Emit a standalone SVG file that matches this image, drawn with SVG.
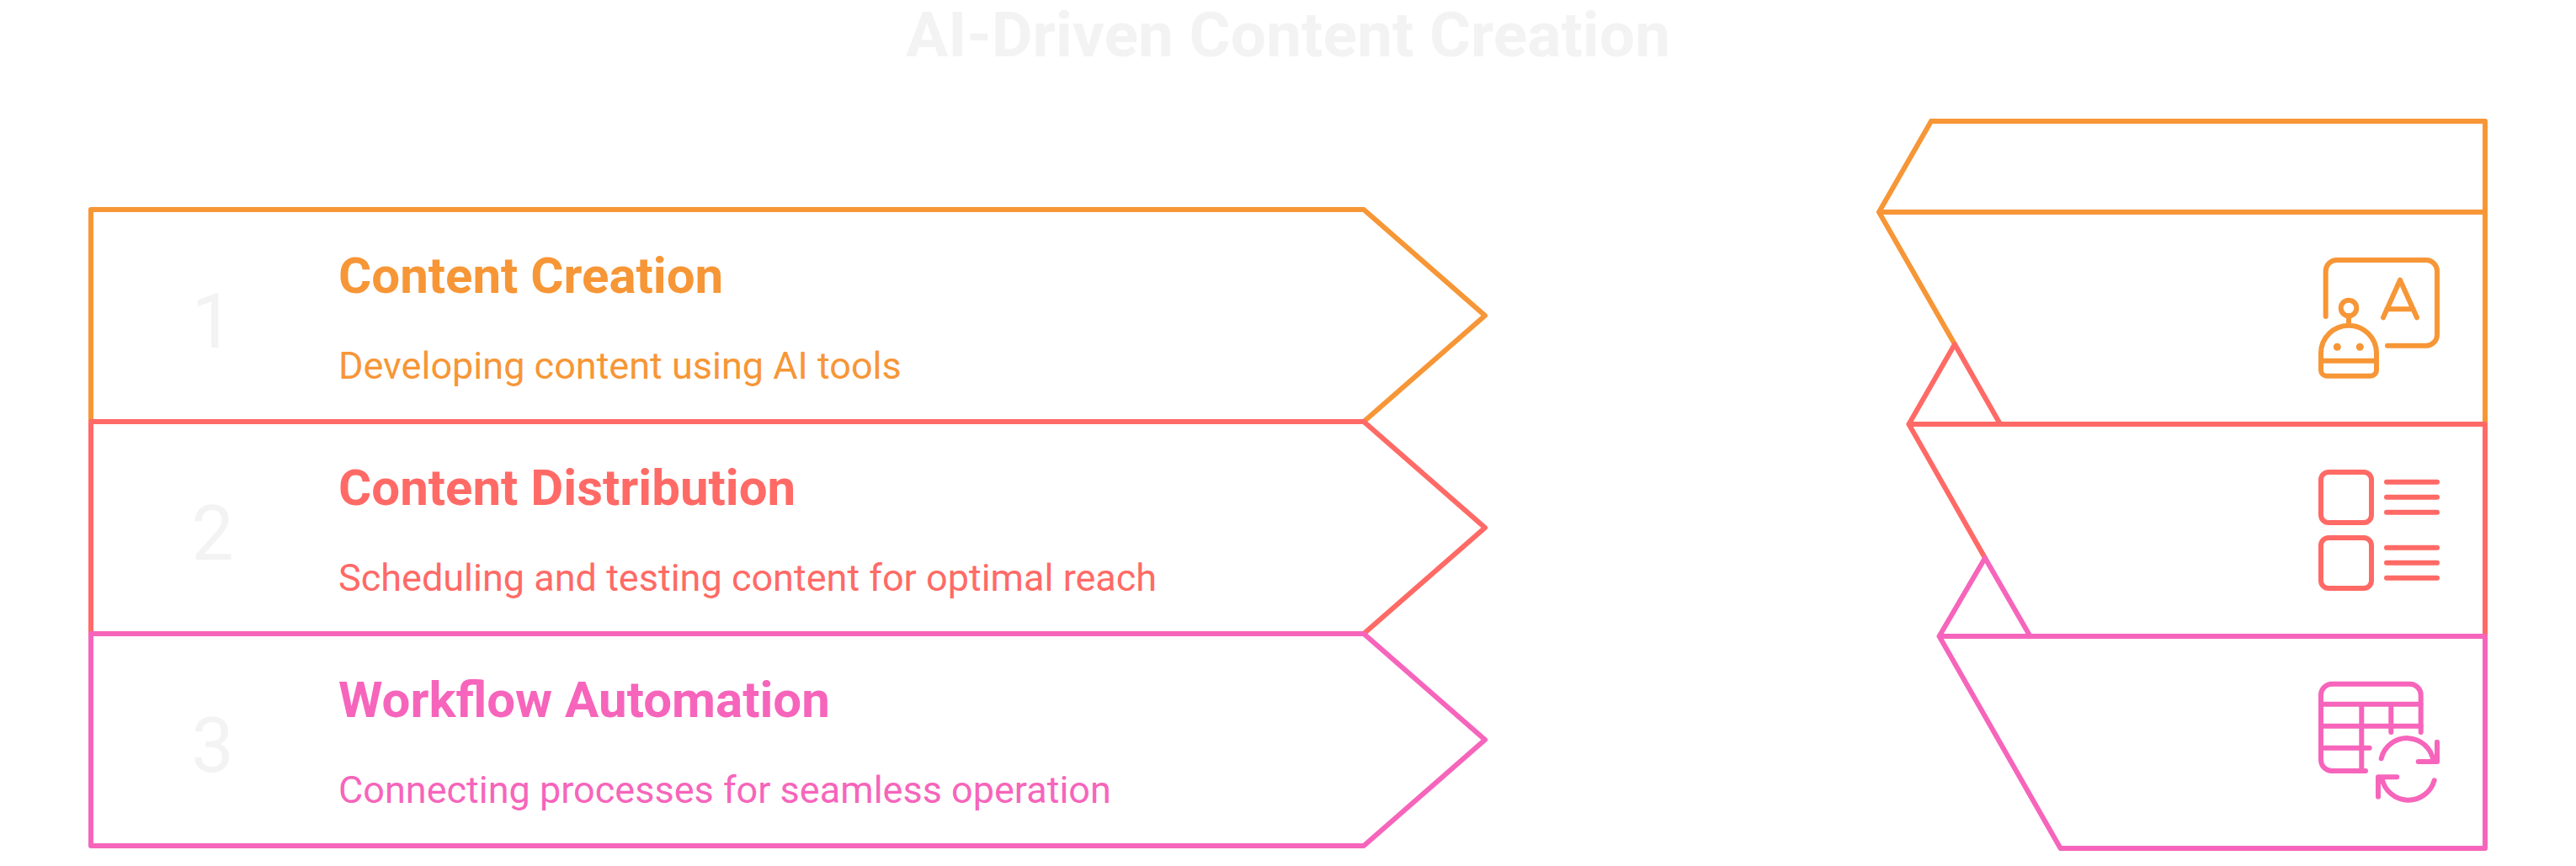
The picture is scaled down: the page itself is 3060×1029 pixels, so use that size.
<svg xmlns="http://www.w3.org/2000/svg" width="3060" height="1029" viewBox="0 0 3060 1029">
<style>
text{font-family:Roboto,"Liberation Sans",sans-serif}
.s{fill:none;stroke-width:6;stroke-linejoin:round;stroke-linecap:round}
.o{stroke:#f79636}.r{stroke:#ff6a66}.p{stroke:#f665bb}
.to{fill:#f79636}.tr{fill:#ff6a66}.tp{fill:#f665bb}
.h{font-size:60px;font-weight:700}
.d{font-size:45px}
.n{font-size:90px;fill:#f3f3f3;text-anchor:middle}
.t{font-size:75px;font-weight:700;fill:#f3f3f3;text-anchor:middle}
</style>
<rect width="3060" height="1029" fill="#fff"/>
<text class="t" x="1530" y="67">AI-Driven Content Creation</text>
<g id="node-1">
<path class="s o" d="M108 501V249H1620L1764 375L1620 501"/>
<text class="n" x="252.5" y="413">1</text>
<text class="h to" x="402" y="348">Content Creation</text>
<text class="d to" x="402" y="450">Developing content using AI tools</text>
</g>
<g id="node-2">
<path class="s r" d="M108 753V501H1620L1764 627L1620 753"/>
<text class="n" x="252.5" y="665">2</text>
<text class="h tr" x="402" y="600">Content Distribution</text>
<text class="d tr" x="402" y="702">Scheduling and testing content for optimal reach</text>
</g>
<g id="node-3">
<path class="s p" d="M108 753H1620L1764 879L1620 1005H108Z"/>
<text class="n" x="252.5" y="917">3</text>
<text class="h tp" x="402" y="852">Workflow Automation</text>
<text class="d tp" x="402" y="954">Connecting processes for seamless operation</text>
</g>
<g id="node-right-1">
<path class="s o" d="M2294 144H2952V504M2952 252H2232L2294 144M2232 252L2322 409"/>
<g class="s o">
<path d="M2762.7 376V322A13 13 0 0 1 2775.7 309H2882A13 13 0 0 1 2895 322V397.7A13 13 0 0 1 2882 410.7H2836"/>
<path d="M2831 377.3L2851 332.7L2871 377.3M2835.3 367.3H2866.7"/>
<circle cx="2790" cy="366" r="9.3"/>
<path d="M2790 375.5V386.7M2757 428.7V419.7A33 33 0 0 1 2823 419.7V439.7A7 7 0 0 1 2816 446.7H2764A7 7 0 0 1 2757 439.7V428.7H2823"/>
</g>
<circle class="to" cx="2776.3" cy="412.3" r="4.5"/>
<circle class="to" cx="2803.3" cy="412.3" r="4.5"/>
</g>
<g id="node-right-2">
<path class="s r" d="M2376 504L2322 409L2267.5 504H2952V756M2267.5 504L2358 663"/>
<g class="s r">
<rect x="2757" y="561" width="60" height="60" rx="9"/>
<rect x="2757" y="639" width="60" height="60" rx="9"/>
<path d="M2835 572.7H2895M2835 590.7H2895M2835 608.7H2895M2835 650.7H2895M2835 668.7H2895M2835 686.7H2895"/>
</g>
</g>
<g id="node-right-3">
<path class="s p" d="M2411.6 756L2358 663L2303.6 756H2952V1008H2447.6L2303.6 756"/>
<g class="s p">
<path d="M2875.7 870V825.7A13 13 0 0 0 2862.7 812.7H2770A13 13 0 0 0 2757 825.7V903A13 13 0 0 0 2770 916H2810"/>
<path d="M2757 836.7H2875.7M2757 862.7H2875.7M2757 888.7H2814.7M2805.3 836.7V916M2840.3 836.7V870"/>
<path d="M2828.7 901.3A31.5 31.5 0 0 1 2890.5 904M2895 881.7V905H2872.7"/>
<path d="M2891.7 927.3A32 32 0 0 1 2829.5 925M2825 946.7V923.3H2847.3"/>
</g>
</g>
</svg>
